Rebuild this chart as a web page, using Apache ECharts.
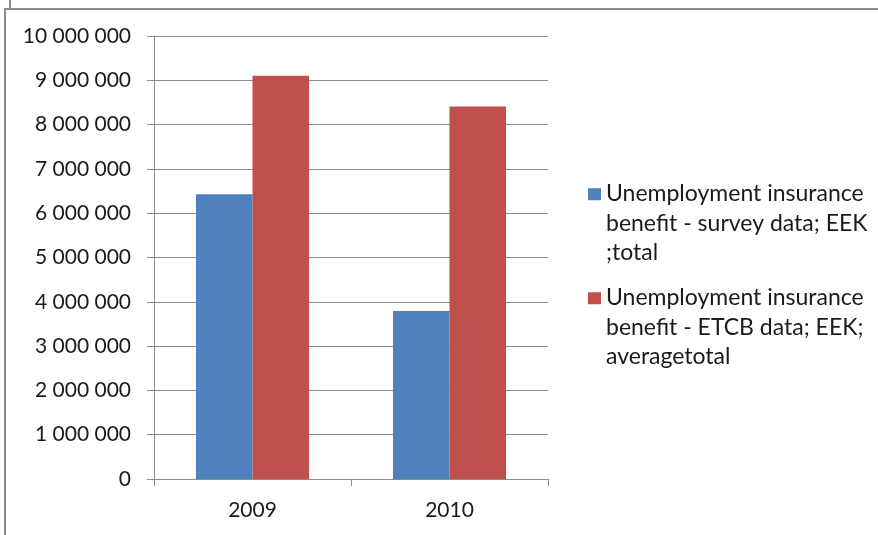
<!DOCTYPE html>
<html>
<head>
<meta charset="utf-8">
<script src="https://cdn.jsdelivr.net/npm/echarts@6/dist/echarts.min.js"></script>
<style>html,body{margin:0;padding:0;background:#fff}#c{width:878px;height:535px}</style>
</head>
<body>
<div id="c"></div>
<script>
var categories = ['2009', '2010'];
var seriesNames = [
  'Unemployment insurance\nbenefit - survey data; EEK\n;total',
  'Unemployment insurance\nbenefit - ETCB data; EEK;\naveragetotal'
];
var surveyValues = [6430000, 3790000];
var etcbValues = [9100000, 8410000];
var yMin = 0, yMax = 10000000, yStep = 1000000;

var FONT = 'Lato';
var chart = echarts.init(document.getElementById('c'), null, {renderer: 'canvas'});
var legendIcon = 'path://M0,0L0.01,0L0.01,0.01Z M0,9L13,9L13,21L0,21Z M0,88L0.01,88L0.01,88.01Z';
function fmt(v) { return String(v).replace(/\B(?=(\d{3})+(?!\d))/g, ' '); }
var gridColor = '#8c8c8c';
chart.setOption({
  animation: false,
  backgroundColor: '#fff',
  textStyle: {fontFamily: FONT},
  grid: {left: 154, right: 330, top: 36, bottom: 56, containLabel: false},
  legend: {
    orient: 'vertical', left: 588, top: 179, padding: 0,
    itemWidth: 13, itemHeight: 88, itemGap: 15.5,
    icon: legendIcon,
    textStyle: {fontFamily: FONT, fontSize: 23, lineHeight: 29.5, color: '#1a1a1a'},
    data: seriesNames
  },
  xAxis: {
    type: 'category', data: categories,
    axisLine: {lineStyle: {color: gridColor, width: 1}},
    axisTick: {show: true, length: 7, alignWithLabel: false, lineStyle: {color: gridColor}},
    axisLabel: {fontFamily: FONT, fontSize: 21, color: '#1a1a1a', margin: 21}
  },
  yAxis: {
    type: 'value', min: yMin, max: yMax, interval: yStep,
    axisLine: {show: true, lineStyle: {color: gridColor, width: 1}},
    axisTick: {show: true, length: 7, lineStyle: {color: gridColor}},
    splitLine: {show: true, lineStyle: {color: gridColor, width: 1}},
    axisLabel: {fontFamily: FONT, fontSize: 21, color: '#1a1a1a', margin: 23, formatter: fmt}
  },
  series: [
    {name: seriesNames[0], type: 'bar', data: surveyValues, barGap: '0%', barCategoryGap: '42.6%',
     itemStyle: {color: '#4F81BD'}},
    {name: seriesNames[1], type: 'bar', data: etcbValues, barGap: '0%', barCategoryGap: '42.6%',
     itemStyle: {color: '#C0504D'}}
  ],
  graphic: [
    {type: 'line', shape: {x1: 4, y1: 9, x2: 878, y2: 9}, style: {stroke: '#8a8a8a', lineWidth: 2}},
    {type: 'line', shape: {x1: 5, y1: 8, x2: 5, y2: 535}, style: {stroke: '#8a8a8a', lineWidth: 2}},
    {type: 'line', shape: {x1: 10, y1: 0, x2: 10, y2: 8}, style: {stroke: '#8a8a8a', lineWidth: 2}}
  ]
});
</script>
</body>
</html>
